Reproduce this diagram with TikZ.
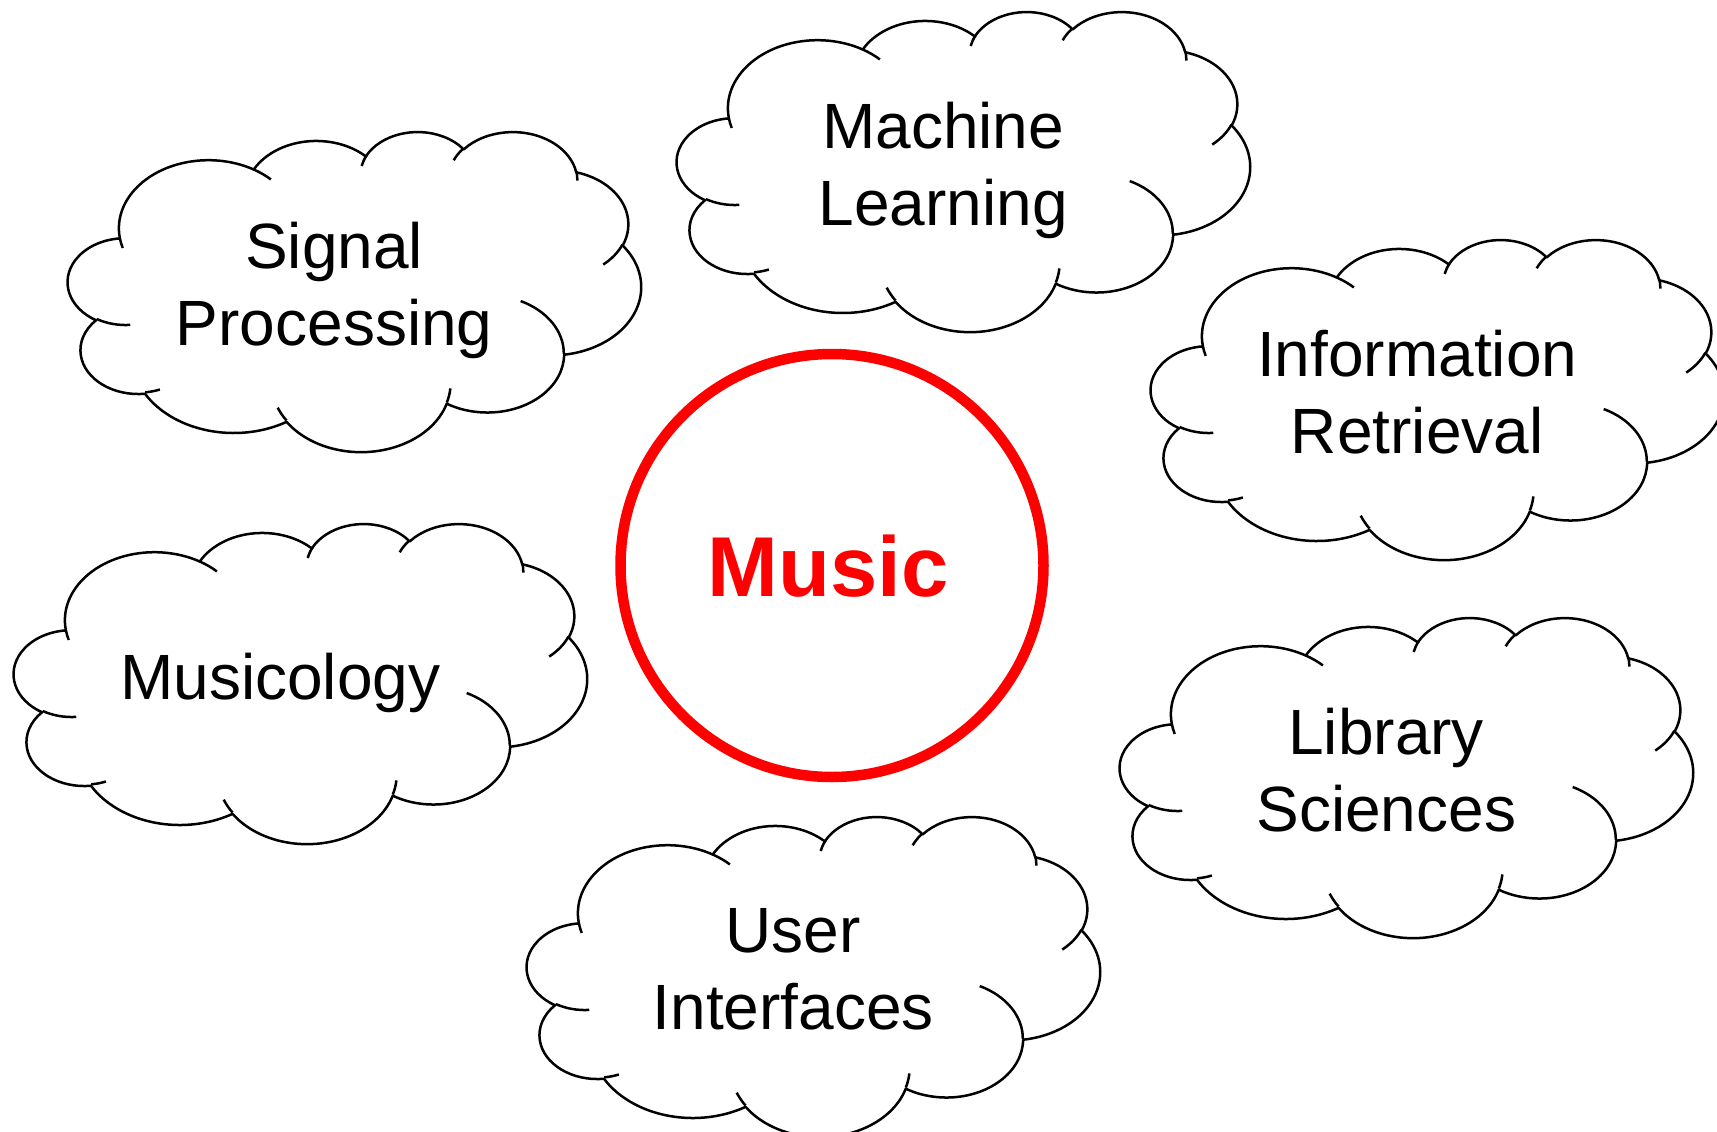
\documentclass[tikz,border=0pt]{standalone}
\usepackage{fontspec}
\setmainfont{Liberation Sans}
\pgfmathdeclarefunction{ooang}{3}{%
  \begingroup
  \pgfmathparse{atan2(#1/10000*sin(#3),#2/10000*cos(#3))}%
  \pgfmathsmuggle\pgfmathresult
  \endgroup}
\pgfmathdeclarefunction{oodel}{4}{%
  \begingroup
  \pgfmathsetmacro\ooA{atan2(#1/10000*sin(#3),#2/10000*cos(#3))}%
  \pgfmathsetmacro\ooB{atan2(#1/10000*sin(#3+#4),#2/10000*cos(#3+#4))}%
  \pgfmathsetmacro\ooD{(\ooB)-(\ooA)}%
  \pgfmathparse{(\ooD)+360*round((#4-(\ooD))/360)}%
  \pgfmathsmuggle\pgfmathresult
  \endgroup}
\tikzset{
  oa/.style n args={4}{insert path={arc[x radius={#1/10000}, y radius={#2/10000}, start angle={ooang(#1,#2,#3)}, delta angle={oodel(#1,#2,#3,#4)}]}},
  cloudline/.style={draw=black, line width=2.5pt, line join=round},
  cloudtext/.style={font=\fontsize{64}{77}\selectfont, align=center, inner sep=0pt, text depth=0pt},
  musicring/.style={circle, draw=red, line width=10.5pt, minimum size=423pt, inner sep=0pt},
  musictext/.style={text=red, font=\fontsize{85}{90}\selectfont\bfseries, inner sep=0pt, text depth=0pt},
}
\newcommand\cloudshape{%
  \draw[cloudline, fill=white] (0.3900,1.4370)
    [oa={6753}{9190}{-190.48748}{123.78053}]
    [oa={5333}{7267}{-144.10238}{89.94523}]
    [oa={4365}{5945}{-145.80792}{99.72302}]
    [oa={4857}{6595}{-130.98607}{117.24173}]
    [oa={5333}{7273}{-78.70888}{109.02692}]
    [oa={6775}{9220}{-46.26725}{130.269}]
    [oa={5785}{7867}{0.62502}{114.03333}]
    [oa={6752}{9215}{22.4516}{115.17255}]
    [oa={7720}{10543}{66.24263}{75.71102}]
    [oa={4360}{5918}{-274.94208}{146.73557}]
    [oa={4345}{5945}{-246.8285}{152.51885}]
    -- cycle;
  \draw[cloudline]
    (0.4693,2.6177) [oa={4345}{5945}{86.742}{26.4295}]
    (0.6928,3.4899) [oa={4360}{5918}{73.61047}{11.44747}]
    (1.6478,3.9090) [oa={6752}{9215}{137.62415}{14.0811}]
    (2.8827,3.4751) [oa={6752}{9215}{6.45327}{15.99835}]
    (3.4129,2.2954) [oa={5785}{7867}{-70.29235}{70.91737}]
    (4.1798,1.5354) [oa={5333}{7273}{30.31803}{27.7515}]
    (3.8324,0.5426) [oa={4857}{6595}{-13.74433}{14.8589}]
    (2.9078,0.3952) [oa={4857}{6595}{-149.18145}{18.19537}]
    (2.2141,0.4720) [oa={4365}{5945}{-163.49427}{17.68635}]
    (1.4000,0.5192) [oa={6753}{9190}{-66.70695}{12.31935}]
    (0.4127,1.5789) [oa={6753}{9190}{157.65435}{11.85817}];
}
\newcommand\placecloud[4]{%
  \begin{scope}[shift={(#2,#3)}, x={(132.6389pt,0pt)}, y={(0pt,-74.0741pt)}]
    \cloudshape
  \end{scope}
  \node[cloudtext] (#1) at (#2+266.2,#3+153.2) {#4};
}
\begin{document}
\begin{tikzpicture}[x=1pt, y=-1pt]
  \fill[white] (0,0) rectangle (1717,1132);
  \useasboundingbox (0,0) rectangle (1717,1132);
  \clip (0,0) rectangle (1717,1132);
  \placecloud{sp}{68}{131}{Signal\\Processing}
  \placecloud{ml}{677}{11}{Machine\\Learning}
  \placecloud{ir}{1151}{239}{Information\\Retrieval}
  \placecloud{mu}{14}{523}{Musicology}
  \placecloud{ls}{1120}{617}{Library\\Sciences}
  \placecloud{ui}{527}{816}{User\\Interfaces}
  \node[musicring] (music) at (832,565.5) {};
  \node[musictext] (musiclabel) at (828,566) {Music};
\end{tikzpicture}
\end{document}
